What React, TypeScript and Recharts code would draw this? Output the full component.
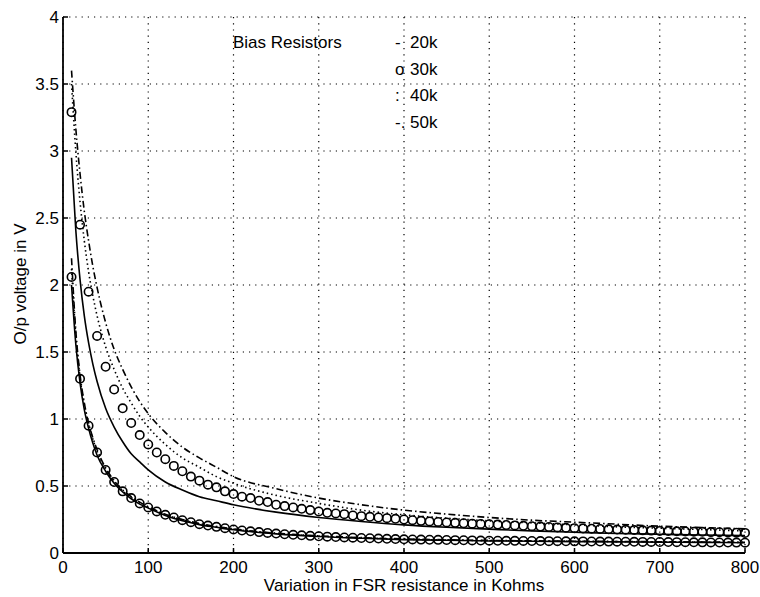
import { LineChart, Line, XAxis, YAxis, CartesianGrid } from "recharts";

const FONT = '"Liberation Sans", Arial, Helvetica, sans-serif';

const xTicks = [0, 100, 200, 300, 400, 500, 600, 700, 800];
const yTicks = [0, 0.5, 1, 1.5, 2, 2.5, 3, 3.5, 4];

// FSR resistance (kOhm) where the circle markers sit
const circleX = [
  10, 20, 30, 40, 50, 60, 70, 80, 90, 100,
  110, 120, 130, 140, 150, 160, 170, 180, 190, 200,
  210, 220, 230, 240, 250, 260, 270, 280, 290, 300,
  310, 320, 330, 340, 350, 360, 370, 380, 390, 400,
  410, 420, 430, 440, 450, 460, 470, 480, 490, 500,
  510, 520, 530, 540, 550, 560, 570, 580, 590, 600,
  610, 620, 630, 640, 650, 660, 670, 680, 690, 700,
  710, 720, 730, 740, 750, 760, 770, 780, 790, 800,
];

// 30k bias, upper set
const upper30k = [
  3.29, 2.45, 1.95, 1.62, 1.39, 1.22, 1.08, 0.97, 0.88, 0.81,
  0.75, 0.7, 0.65, 0.61, 0.57, 0.54, 0.51, 0.49, 0.46, 0.44,
  0.42, 0.41, 0.39, 0.38, 0.36, 0.35, 0.34, 0.33, 0.32, 0.31,
  0.3, 0.295, 0.29, 0.28, 0.275, 0.27, 0.265, 0.26, 0.255, 0.25,
  0.245, 0.24, 0.236, 0.232, 0.228, 0.225, 0.222, 0.219, 0.217, 0.215,
  0.212, 0.209, 0.206, 0.203, 0.2, 0.197, 0.194, 0.191, 0.188, 0.185,
  0.183, 0.181, 0.179, 0.177, 0.175, 0.173, 0.171, 0.169, 0.167, 0.165,
  0.164, 0.162, 0.161, 0.159, 0.158, 0.156, 0.155, 0.153, 0.152, 0.15,
];

// 30k bias, lower set
const lower30k = [
  2.06, 1.3, 0.95, 0.75, 0.62, 0.53, 0.46, 0.41, 0.37, 0.34,
  0.31, 0.285, 0.265, 0.245, 0.23, 0.215, 0.205, 0.195, 0.185, 0.176,
  0.168, 0.162, 0.156, 0.15, 0.145, 0.14, 0.136, 0.132, 0.128, 0.125,
  0.122, 0.119, 0.116, 0.114, 0.112, 0.11, 0.108, 0.106, 0.104, 0.102,
  0.101, 0.1, 0.099, 0.098, 0.097, 0.096, 0.095, 0.094, 0.093, 0.092,
  0.0915, 0.091, 0.0905, 0.09, 0.0895, 0.089, 0.0885, 0.088, 0.0875, 0.087,
  0.0865, 0.086, 0.0855, 0.085, 0.0845, 0.084, 0.0835, 0.083, 0.0825, 0.082,
  0.0815, 0.081, 0.0805, 0.08, 0.0795, 0.079, 0.0785, 0.078, 0.0775, 0.077,
];

// x positions for the plain line traces
const lineX = [
  10, 15, 20, 25, 30, 35, 40, 50, 60, 70, 80, 90, 100, 120, 140,
  160, 180, 200, 250, 300, 350, 400, 450, 500, 550, 600, 650, 700, 750, 800,
];

const upper20k = [
  2.95, 2.41, 2.04, 1.77, 1.57, 1.41, 1.28, 1.08, 0.94, 0.83, 0.74, 0.68, 0.62, 0.53, 0.47,
  0.42, 0.39, 0.36, 0.305, 0.265, 0.235, 0.21, 0.192, 0.178, 0.165, 0.155, 0.146, 0.14, 0.134, 0.13,
];
const upper40k = [
  3.5, 3.0, 2.62, 2.33, 2.1, 1.92, 1.77, 1.54, 1.37, 1.23, 1.12, 1.02, 0.94, 0.81, 0.71,
  0.64, 0.57, 0.52, 0.43, 0.37, 0.32, 0.285, 0.26, 0.24, 0.225, 0.21, 0.195, 0.185, 0.175, 0.165,
];
const upper50k = [
  3.6, 3.17, 2.83, 2.55, 2.33, 2.14, 1.98, 1.72, 1.52, 1.37, 1.24, 1.13, 1.04, 0.9, 0.79,
  0.71, 0.64, 0.57, 0.48, 0.41, 0.36, 0.32, 0.29, 0.265, 0.245, 0.23, 0.215, 0.2, 0.19, 0.18,
];
const lower20k = [
  2.0, 1.56, 1.27, 1.07, 0.93, 0.82, 0.73, 0.61, 0.52, 0.455, 0.405, 0.365, 0.335, 0.28, 0.24,
  0.212, 0.192, 0.173, 0.143, 0.123, 0.11, 0.1, 0.095, 0.09, 0.088, 0.085, 0.083, 0.081, 0.079, 0.077,
];
const lower40k = [
  2.12, 1.63, 1.31, 1.11, 0.96, 0.85, 0.76, 0.628, 0.535, 0.465, 0.415, 0.375, 0.342, 0.287, 0.247,
  0.217, 0.196, 0.178, 0.146, 0.126, 0.113, 0.103, 0.097, 0.092, 0.09, 0.087, 0.085, 0.083, 0.081, 0.079,
];
const lower50k = [
  2.2, 1.66, 1.33, 1.12, 0.97, 0.86, 0.77, 0.635, 0.54, 0.47, 0.42, 0.38, 0.345, 0.29, 0.25,
  0.22, 0.198, 0.18, 0.148, 0.128, 0.115, 0.105, 0.099, 0.094, 0.091, 0.088, 0.086, 0.084, 0.082, 0.08,
];

const legendItems = [
  { mark: "-", label: "20k" },
  { mark: "o", label: "30k" },
  { mark: ":", label: "40k" },
  { mark: "-.", label: "50k" },
];

const toRows = (xs: number[], ys: number[]) => xs.map((x, i) => ({ x, v: ys[i] }));

const DOTTED = "1.5 3";
const DASHDOT = "7 3 1.5 3";

const lines = [
  { key: "u20", data: toRows(lineX, upper20k), dash: undefined },
  { key: "u40", data: toRows(lineX, upper40k), dash: DOTTED },
  { key: "u50", data: toRows(lineX, upper50k), dash: DASHDOT },
  { key: "l20", data: toRows(lineX, lower20k), dash: undefined },
  { key: "l40", data: toRows(lineX, lower40k), dash: DOTTED },
  { key: "l50", data: toRows(lineX, lower50k), dash: DASHDOT },
];

const circles = [
  { key: "u30", data: toRows(circleX, upper30k) },
  { key: "l30", data: toRows(circleX, lower30k) },
];

const axisLine = { stroke: "#000", strokeWidth: 1.8 };
const tickStyle = { fill: "#000", fontSize: 17, fontFamily: FONT };
const blank = () => "";

export default function App() {
  return (
    <div style={{ position: "absolute", left: 0, top: 0, width: 760, height: 597, background: "#fff" }}>
      <LineChart width={760} height={597} margin={{ top: 17, right: 15, bottom: 0, left: 0 }}>
        <CartesianGrid stroke="#000" strokeDasharray="1.2 5" strokeWidth={1.2} />
        <XAxis
          type="number"
          dataKey="x"
          domain={[0, 800]}
          ticks={xTicks}
          interval={0}
          height={44}
          tickSize={-5}
          tickMargin={13}
          axisLine={axisLine}
          tickLine={{ stroke: "#000", strokeWidth: 1.5 }}
          tick={tickStyle}
        />
        <XAxis
          xAxisId="top"
          orientation="top"
          type="number"
          dataKey="x"
          domain={[0, 800]}
          ticks={xTicks}
          interval={0}
          height={0}
          tickSize={-5}
          axisLine={axisLine}
          tickLine={{ stroke: "#000", strokeWidth: 1.5 }}
          tickFormatter={blank}
        />
        <YAxis
          type="number"
          domain={[0, 4]}
          ticks={yTicks}
          interval={0}
          width={63}
          tickSize={-5}
          tickMargin={9}
          axisLine={axisLine}
          tickLine={{ stroke: "#000", strokeWidth: 1.5 }}
          tick={tickStyle}
        />
        <YAxis
          yAxisId="right"
          orientation="right"
          type="number"
          domain={[0, 4]}
          ticks={yTicks}
          interval={0}
          width={0}
          tickSize={-5}
          axisLine={axisLine}
          tickLine={{ stroke: "#000", strokeWidth: 1.5 }}
          tickFormatter={blank}
        />
        {lines.map((l) => (
          <Line
            key={l.key}
            data={l.data}
            dataKey="v"
            type="monotone"
            stroke="#000"
            strokeWidth={1.6}
            strokeDasharray={l.dash}
            dot={false}
            activeDot={false}
            isAnimationActive={false}
          />
        ))}
        {circles.map((c) => (
          <Line
            key={c.key}
            data={c.data}
            dataKey="v"
            stroke="none"
            dot={{ r: 4.2, stroke: "#000", strokeWidth: 1.6, fill: "none" }}
            activeDot={false}
            isAnimationActive={false}
          />
        ))}
      </LineChart>
      <svg
        width={760}
        height={597}
        style={{ position: "absolute", left: 0, top: 0, pointerEvents: "none" }}
        fontFamily={FONT}
        fontSize={17}
        fill="#000"
      >
        <text x={233} y={48}>Bias Resistors</text>
        {legendItems.map((item, i) => (
          <g key={item.label}>
            <text x={395} y={48 + i * 26.5}>{item.mark}</text>
            <text x={410} y={48 + i * 26.5}>{item.label}</text>
          </g>
        ))}
        <text x={404} y={591} textAnchor="middle">
          Variation in FSR resistance in Kohms
        </text>
        <text x={26} y={284} textAnchor="middle" transform="rotate(-90 26 284)">
          O/p voltage in V
        </text>
      </svg>
    </div>
  );
}
